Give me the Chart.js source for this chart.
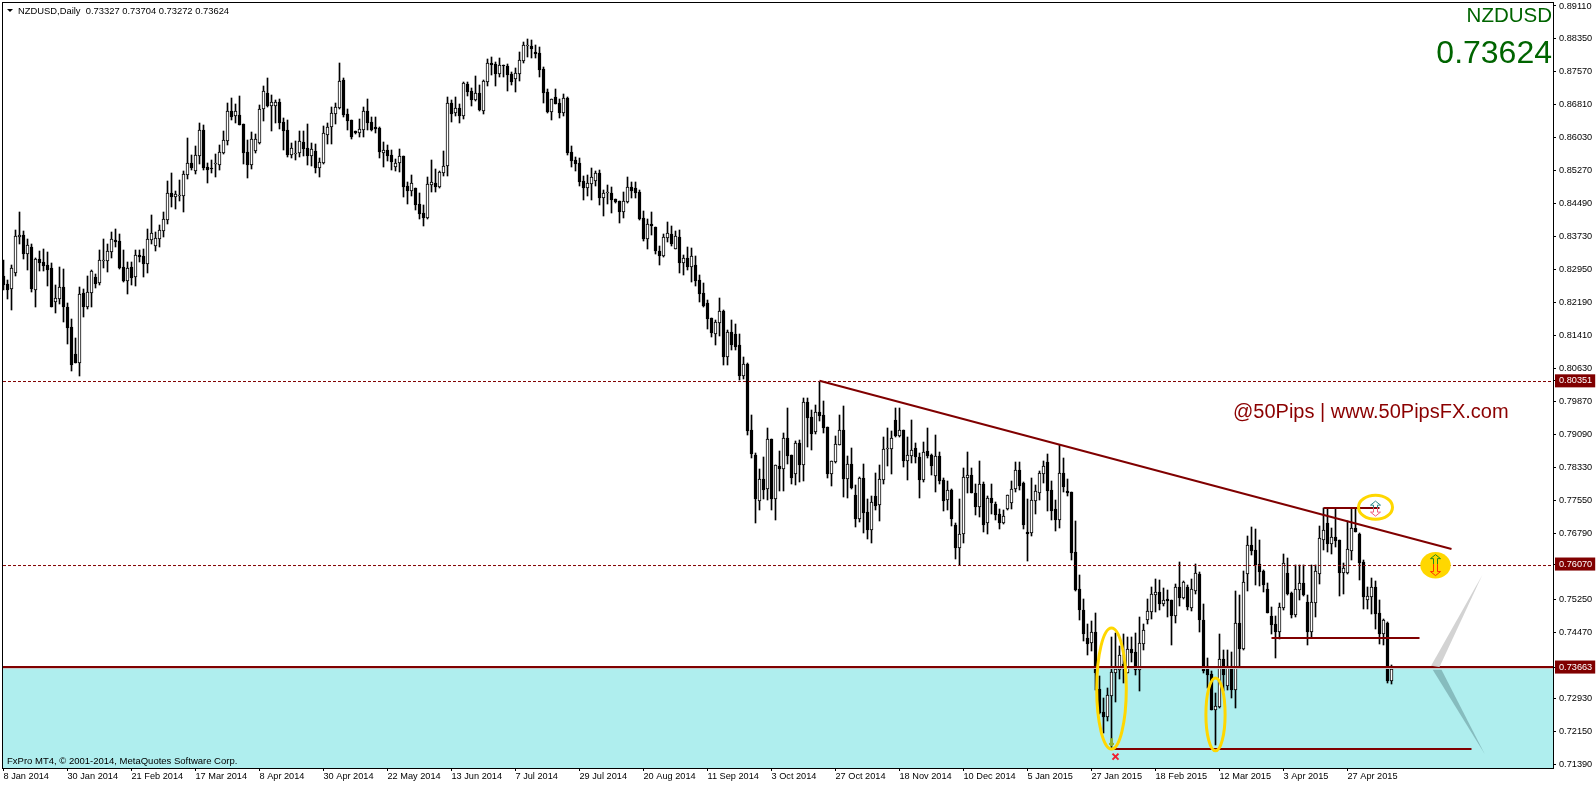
<!DOCTYPE html>
<html>
<head>
<meta charset="utf-8">
<title>NZDUSD Daily</title>
<script src="https://cdn.jsdelivr.net/npm/chart.js@4/dist/chart.umd.min.js"></script>
<style>
  html, body { margin: 0; padding: 0; background: #fff; overflow: hidden; }
  canvas { display: block; }
</style>
</head>
<body>
<canvas id="myChart" width="1596" height="786"></canvas>
<script>
const opens = [
  0.8280,0.8261,0.8249,0.8288,0.8372,0.8377,0.8331,0.8348,0.8248,0.8320,
  0.8313,0.8306,0.8299,0.8220,0.8226,0.8254,0.8208,0.8161,0.8098,0.8077,
  0.8240,0.8208,0.8241,0.8278,0.8264,0.8316,0.8315,0.8336,0.8364,0.8362,
  0.8301,0.8268,0.8301,0.8278,0.8329,0.8327,0.8308,0.8364,0.8350,0.8366,
  0.8385,0.8411,0.8474,0.8465,0.8467,0.8467,0.8516,0.8544,0.8525,0.8560,
  0.8621,0.8535,0.8531,0.8541,0.8539,0.8567,0.8596,0.8666,0.8654,0.8656,
  0.8635,0.8570,0.8539,0.8572,0.8591,0.8670,0.8708,0.8677,0.8677,0.8687,
  0.8640,0.8621,0.8563,0.8564,0.8567,0.8593,0.8579,0.8560,0.8572,0.8532,
  0.8544,0.8610,0.8628,0.8659,0.8673,0.8738,0.8659,0.8644,0.8619,0.8614,
  0.8621,0.8666,0.8640,0.8628,0.8626,0.8567,0.8574,0.8563,0.8535,0.8543,
  0.8560,0.8490,0.8479,0.8486,0.8448,0.8427,0.8416,0.8493,0.8497,0.8488,
  0.8521,0.8537,0.8684,0.8661,0.8673,0.8654,0.8729,0.8712,0.8691,0.8708,
  0.8666,0.8733,0.8778,0.8776,0.8752,0.8772,0.8771,0.8752,0.8740,0.8752,
  0.8783,0.8818,0.8818,0.8804,0.8801,0.8764,0.8710,0.8663,0.8698,0.8684,
  0.8661,0.8696,0.8570,0.8551,0.8544,0.8502,0.8486,0.8495,0.8502,0.8521,
  0.8463,0.8473,0.8474,0.8460,0.8456,0.8430,0.8453,0.8488,0.8486,0.8477,
  0.8416,0.8367,0.8402,0.8395,0.8339,0.8327,0.8369,0.8378,0.8343,0.8371,
  0.8311,0.8322,0.8301,0.8306,0.8271,0.8241,0.8217,0.8182,0.8145,0.8170,
  0.8198,0.8091,0.8149,0.8145,0.8119,0.8047,0.8075,0.7920,0.7862,0.7755,
  0.7806,0.7783,0.7899,0.7759,0.7836,0.7829,0.7902,0.7861,0.7818,0.7890,
  0.7839,0.7986,0.7951,0.7916,0.7962,0.7955,0.7927,0.7818,0.7846,0.7885,
  0.7920,0.7806,0.7841,0.7769,0.7712,0.7808,0.7729,0.7687,0.7766,0.7745,
  0.7804,0.7875,0.7875,0.7944,0.7906,0.7920,0.7848,0.7860,0.7878,0.7857,
  0.7804,0.7871,0.7862,0.7813,0.7860,0.7804,0.7757,0.7780,0.7698,0.7645,
  0.7677,0.7808,0.7815,0.7773,0.7741,0.7794,0.7703,0.7762,0.7748,0.7724,
  0.7703,0.7735,0.7750,0.7783,0.7827,0.7796,0.7682,0.7679,0.7754,0.7773,
  0.7817,0.7845,0.7780,0.7735,0.7710,0.7820,0.7777,0.7775,0.7635,0.7548,
  0.7499,0.7434,0.7423,0.7448,0.7315,0.7261,0.7250,0.7299,0.7353,0.7360,
  0.7374,0.7353,0.7409,0.7402,0.7360,0.7420,0.7476,0.7495,0.7535,0.7542,
  0.7514,0.7525,0.7523,0.7486,0.7554,0.7528,0.7554,0.7504,0.7544,0.7584,
  0.7476,0.7369,0.7350,0.7266,0.7273,0.7385,0.7322,0.7369,0.7313,0.7469,
  0.7409,0.7584,0.7652,0.7640,0.7607,0.7591,0.7549,0.7486,0.7467,0.7448,
  0.7505,0.7586,0.7540,0.7488,0.7547,0.7563,0.7519,0.7448,0.7516,0.7584,
  0.7663,0.7703,0.7654,0.7670,0.7663,0.7586,0.7586,0.7638,0.7691,0.7677,
  0.7612,0.7523,0.7530,0.7554,0.7493,0.7444,0.7469,0.73327
];
const highs = [
  0.8317,0.8270,0.8305,0.8387,0.8430,0.8385,0.8366,0.8355,0.8322,0.8338,
  0.8343,0.8336,0.8310,0.8259,0.8301,0.8296,0.8217,0.8180,0.8135,0.8254,
  0.8249,0.8280,0.8294,0.8285,0.8341,0.8366,0.8355,0.8383,0.8390,0.8378,
  0.8341,0.8313,0.8313,0.8341,0.8341,0.8343,0.8390,0.8423,0.8383,0.8399,
  0.8430,0.8502,0.8521,0.8479,0.8504,0.8525,0.8603,0.8563,0.8584,0.8638,
  0.8633,0.8544,0.8551,0.8565,0.8586,0.8619,0.8684,0.8696,0.8682,0.8701,
  0.8635,0.8598,0.8617,0.8612,0.8680,0.8724,0.8743,0.8703,0.8691,0.8694,
  0.8649,0.8645,0.8591,0.8596,0.8619,0.8619,0.8635,0.8591,0.8589,0.8556,
  0.8631,0.8638,0.8675,0.8684,0.8778,0.8743,0.8670,0.8645,0.8620,0.8647,
  0.8675,0.8694,0.8652,0.8652,0.8628,0.8593,0.8586,0.8574,0.8553,0.8577,
  0.8561,0.8500,0.8516,0.8486,0.8474,0.8446,0.8512,0.8551,0.8530,0.8526,
  0.8572,0.8698,0.8691,0.8698,0.8682,0.8733,0.8733,0.8719,0.8748,0.8726,
  0.8738,0.8787,0.8792,0.8780,0.8790,0.8773,0.8776,0.8757,0.8766,0.8804,
  0.8827,0.8834,0.8832,0.8820,0.8815,0.8769,0.8717,0.8694,0.8717,0.8694,
  0.8705,0.8698,0.8584,0.8558,0.8556,0.8514,0.8516,0.8533,0.8526,0.8528,
  0.8481,0.8493,0.8488,0.8460,0.8456,0.8477,0.8512,0.8500,0.8500,0.8481,
  0.8432,0.8413,0.8430,0.8395,0.8350,0.8378,0.8406,0.8397,0.8385,0.8388,
  0.8329,0.8348,0.8346,0.8327,0.8283,0.8264,0.8224,0.8182,0.8177,0.8229,
  0.8201,0.8154,0.8177,0.8168,0.8145,0.8091,0.8077,0.7955,0.7867,0.7829,
  0.7857,0.7925,0.7899,0.7839,0.7871,0.7913,0.7972,0.7862,0.7895,0.7897,
  0.7995,0.7995,0.7967,0.7979,0.8033,0.7988,0.7927,0.7848,0.7906,0.7955,
  0.7977,0.7860,0.7878,0.7792,0.7811,0.7841,0.7759,0.7766,0.7820,0.7839,
  0.7904,0.7925,0.7918,0.7972,0.7972,0.7920,0.7904,0.7944,0.7890,0.7867,
  0.7892,0.7925,0.7864,0.7909,0.7869,0.7808,0.7801,0.7783,0.7703,0.7759,
  0.7832,0.7869,0.7832,0.7794,0.7848,0.7799,0.7766,0.7794,0.7752,0.7736,
  0.7733,0.7769,0.7801,0.7846,0.7846,0.7799,0.7759,0.7808,0.7791,0.7824,
  0.7848,0.7864,0.7801,0.7756,0.7885,0.7855,0.7805,0.7775,0.7707,0.7581,
  0.7525,0.7467,0.7474,0.7493,0.7346,0.7294,0.7318,0.7437,0.7446,0.7416,
  0.7444,0.7437,0.7437,0.7446,0.7483,0.7467,0.7525,0.7554,0.7572,0.7570,
  0.7551,0.7547,0.7523,0.7561,0.7612,0.7568,0.7558,0.7572,0.7607,0.7589,
  0.7514,0.7388,0.7357,0.7306,0.7444,0.7406,0.7406,0.7402,0.7544,0.7535,
  0.7591,0.7673,0.7694,0.7689,0.7663,0.7593,0.7563,0.7507,0.7486,0.7516,
  0.7631,0.7621,0.7542,0.7605,0.7605,0.7605,0.7535,0.7605,0.7605,0.7696,
  0.7738,0.7738,0.7691,0.7738,0.7663,0.7610,0.7708,0.7738,0.7738,0.7680,
  0.7617,0.7554,0.7575,0.7568,0.7523,0.7479,0.7472,0.73704
];
const lows = [
  0.8247,0.8226,0.8200,0.8280,0.8355,0.8320,0.8293,0.8243,0.8208,0.8292,
  0.8292,0.8257,0.8207,0.8194,0.8215,0.8172,0.8121,0.8058,0.8076,0.8046,
  0.8184,0.8203,0.8208,0.8252,0.8259,0.8299,0.8289,0.8322,0.8348,0.8296,
  0.8266,0.8238,0.8259,0.8257,0.8313,0.8278,0.8287,0.8355,0.8338,0.8348,
  0.8371,0.8402,0.8441,0.8437,0.8455,0.8430,0.8507,0.8528,0.8518,0.8542,
  0.8528,0.8497,0.8521,0.8511,0.8528,0.8565,0.8586,0.8645,0.8638,0.8632,
  0.8542,0.8509,0.8530,0.8567,0.8589,0.8642,0.8676,0.8619,0.8638,0.8624,
  0.8574,0.8558,0.8556,0.8551,0.8558,0.8560,0.8539,0.8537,0.8521,0.8511,
  0.8542,0.8589,0.8589,0.8635,0.8670,0.8652,0.8621,0.8600,0.8612,0.8605,
  0.8605,0.8621,0.8619,0.8614,0.8556,0.8535,0.8549,0.8528,0.8525,0.8523,
  0.8465,0.8448,0.8467,0.8434,0.8413,0.8397,0.8413,0.8476,0.8476,0.8486,
  0.8514,0.8514,0.8640,0.8654,0.8638,0.8647,0.8701,0.8677,0.8690,0.8666,
  0.8659,0.8724,0.8750,0.8724,0.8745,0.8745,0.8712,0.8726,0.8710,0.8736,
  0.8778,0.8792,0.8790,0.8790,0.8745,0.8684,0.8662,0.8645,0.8681,0.8649,
  0.8654,0.8563,0.8535,0.8526,0.8490,0.8458,0.8467,0.8458,0.8491,0.8446,
  0.8420,0.8449,0.8427,0.8451,0.8404,0.8416,0.8451,0.8463,0.8463,0.8411,
  0.8362,0.8343,0.8376,0.8332,0.8306,0.8325,0.8360,0.8350,0.8342,0.8287,
  0.8283,0.8294,0.8266,0.8257,0.8220,0.8208,0.8156,0.8138,0.8119,0.8140,
  0.8072,0.8072,0.8107,0.8107,0.8037,0.8040,0.7909,0.7855,0.7703,0.7733,
  0.7759,0.7757,0.7733,0.7710,0.7778,0.7778,0.7841,0.7794,0.7792,0.7799,
  0.7801,0.7881,0.7874,0.7911,0.7941,0.7913,0.7808,0.7790,0.7843,0.7884,
  0.7764,0.7762,0.7783,0.7694,0.7705,0.7680,0.7666,0.7656,0.7733,0.7708,
  0.7794,0.7836,0.7818,0.7905,0.7904,0.7834,0.7804,0.7843,0.7843,0.7762,
  0.7799,0.7855,0.7815,0.7776,0.7794,0.7731,0.7733,0.7696,0.7619,0.7605,
  0.7656,0.7773,0.7772,0.7722,0.7717,0.7682,0.7677,0.7724,0.7710,0.7689,
  0.7701,0.7733,0.7736,0.7776,0.7780,0.7690,0.7614,0.7672,0.7724,0.7756,
  0.7796,0.7731,0.7710,0.7684,0.7691,0.7775,0.7766,0.7616,0.7545,0.7476,
  0.7427,0.7395,0.7404,0.7313,0.7257,0.7212,0.7240,0.7175,0.7285,0.7339,
  0.7329,0.7352,0.7378,0.7348,0.7311,0.7406,0.7467,0.7479,0.7495,0.7500,
  0.7509,0.7483,0.7418,0.7469,0.7509,0.7525,0.7500,0.7497,0.7537,0.7448,
  0.7353,0.7318,0.7265,0.7184,0.7271,0.7311,0.7313,0.7294,0.7271,0.7369,
  0.7406,0.7544,0.7628,0.7558,0.7556,0.7542,0.7492,0.7444,0.7388,0.7432,
  0.7500,0.7535,0.7481,0.7484,0.7523,0.7533,0.7418,0.7437,0.7484,0.7561,
  0.7640,0.7635,0.7631,0.7647,0.7533,0.7537,0.7584,0.7617,0.7681,0.7570,
  0.7502,0.7502,0.7491,0.7455,0.7420,0.7418,0.7328,0.73272
];
const closes = [
  0.8259,0.8247,0.8298,0.8373,0.8377,0.8331,0.8353,0.8250,0.8320,0.8310,
  0.8304,0.8294,0.8208,0.8228,0.8254,0.8208,0.8158,0.8072,0.8077,0.8238,
  0.8208,0.8243,0.8292,0.8261,0.8317,0.8317,0.8338,0.8366,0.8359,0.8298,
  0.8268,0.8299,0.8275,0.8329,0.8324,0.8308,0.8366,0.8380,0.8369,0.8387,
  0.8413,0.8474,0.8465,0.8472,0.8469,0.8518,0.8544,0.8532,0.8563,0.8621,
  0.8532,0.8528,0.8529,0.8543,0.8570,0.8598,0.8666,0.8652,0.8666,0.8633,
  0.8567,0.8539,0.8600,0.8600,0.8670,0.8712,0.8677,0.8687,0.8687,0.8638,
  0.8619,0.8563,0.8579,0.8566,0.8596,0.8577,0.8560,0.8577,0.8532,0.8546,
  0.8614,0.8628,0.8661,0.8675,0.8736,0.8656,0.8642,0.8605,0.8614,0.8624,
  0.8666,0.8638,0.8621,0.8624,0.8570,0.8574,0.8560,0.8546,0.8544,0.8560,
  0.8488,0.8479,0.8497,0.8446,0.8425,0.8416,0.8495,0.8500,0.8488,0.8523,
  0.8537,0.8684,0.8659,0.8673,0.8654,0.8731,0.8710,0.8691,0.8708,0.8668,
  0.8736,0.8778,0.8773,0.8752,0.8773,0.8770,0.8750,0.8733,0.8755,0.8785,
  0.8820,0.8820,0.8811,0.8799,0.8762,0.8708,0.8663,0.8693,0.8682,0.8661,
  0.8696,0.8568,0.8549,0.8542,0.8500,0.8486,0.8498,0.8512,0.8521,0.8463,
  0.8474,0.8474,0.8458,0.8453,0.8430,0.8456,0.8488,0.8479,0.8474,0.8413,
  0.8367,0.8402,0.8397,0.8339,0.8327,0.8371,0.8381,0.8355,0.8374,0.8311,
  0.8322,0.8301,0.8327,0.8269,0.8238,0.8210,0.8180,0.8147,0.8173,0.8198,
  0.8091,0.8149,0.8119,0.8114,0.8047,0.8075,0.7918,0.7864,0.7759,0.7806,
  0.7780,0.7899,0.7759,0.7838,0.7829,0.7902,0.7860,0.7808,0.7890,0.7839,
  0.7986,0.7948,0.7911,0.7962,0.7953,0.7925,0.7818,0.7847,0.7888,0.7920,
  0.7806,0.7841,0.7785,0.7712,0.7808,0.7726,0.7687,0.7752,0.7743,0.7806,
  0.7876,0.7877,0.7902,0.7906,0.7920,0.7848,0.7862,0.7874,0.7857,0.7804,
  0.7869,0.7860,0.7836,0.7860,0.7801,0.7755,0.7780,0.7712,0.7645,0.7677,
  0.7811,0.7815,0.7773,0.7741,0.7794,0.7698,0.7762,0.7750,0.7722,0.7703,
  0.7719,0.7768,0.7783,0.7827,0.7790,0.7698,0.7677,0.7756,0.7777,0.7820,
  0.7836,0.7777,0.7731,0.7710,0.7820,0.7787,0.7773,0.7633,0.7546,0.7499,
  0.7443,0.7420,0.7448,0.7353,0.7259,0.7250,0.7301,0.7355,0.7362,0.7395,
  0.7364,0.7409,0.7399,0.7360,0.7423,0.7453,0.7497,0.7537,0.7542,0.7514,
  0.7523,0.7521,0.7486,0.7554,0.7528,0.7565,0.7507,0.7549,0.7586,0.7476,
  0.7357,0.7348,0.7266,0.7275,0.7385,0.7348,0.7369,0.7313,0.7469,0.7409,
  0.7565,0.7652,0.7638,0.7605,0.7589,0.7558,0.7493,0.7465,0.7448,0.7507,
  0.7610,0.7537,0.7488,0.7549,0.7563,0.7535,0.7448,0.7519,0.7591,0.7668,
  0.7687,0.7654,0.7670,0.7661,0.7586,0.7598,0.7642,0.7691,0.7682,0.7610,
  0.7530,0.7533,0.7554,0.7491,0.7444,0.7476,0.7333,0.73624
];

// one label every 16 bars
const dateLabels = [
  "8 Jan 2014","30 Jan 2014","21 Feb 2014","17 Mar 2014","8 Apr 2014","30 Apr 2014",
  "22 May 2014","13 Jun 2014","7 Jul 2014","29 Jul 2014","20 Aug 2014","11 Sep 2014",
  "3 Oct 2014","27 Oct 2014","18 Nov 2014","10 Dec 2014","5 Jan 2015","27 Jan 2015",
  "18 Feb 2015","12 Mar 2015","3 Apr 2015","27 Apr 2015"
];
const priceTicks = [
  0.8911,0.8835,0.8757,0.8681,0.8603,0.8527,0.8449,0.8373,0.8295,0.8219,0.8141,0.8063,
  0.80351,0.7987,0.7909,0.7833,0.7755,0.7679,0.7607,0.7525,0.7447,0.73663,0.7293,0.7215,0.7139
];
const boxedPrices = [0.80351, 0.7607, 0.73663];

const darkRed = "#800000";
const gold = "#FFD700";

// drawn objects on the chart, in bar index and price
const trendLine = [{x: 204, y: 0.80351}, {x: 362, y: 0.76421}];
const supportLine = [{x: 277, y: 0.71747}, {x: 367, y: 0.71747}];
const midLine = [{x: 317, y: 0.74341}, {x: 354, y: 0.74341}];
const topLine = [{x: 330, y: 0.77379}, {x: 344, y: 0.77379}];
const ellipses = [
  {bar: 277, top: 0.74575, bottom: 0.71747, bars: 3.7, fill: false},
  {bar: 303, top: 0.73407, bottom: 0.71707, bars: 2.4, fill: false},
  {bar: 343, top: 0.77676, bottom: 0.77115, bars: 4.25, fill: false},
  {bar: 358, top: 0.76351, bottom: 0.75734, bars: 3.8, fill: true}
];
const wedges = [
  {color: "#D3D3D3", points: [[369.7, 0.75814], [356.9, 0.73694], [359, 0.73663]]},
  {color: "#86BCBE", points: [[357.3, 0.73601], [359.5, 0.73601], [370.3, 0.7163]]}
];

const xMin = -0.125, xMax = 387.375;
const flat = (y) => [{x: xMin, y: y}, {x: xMax, y: y}];

function lineSet(data, width, dash, color) {
  return {
    type: "line", data: data, order: 0,
    borderColor: color || darkRed, borderWidth: width, borderDash: dash || [],
    pointRadius: 0, tension: 0, fill: false
  };
}

function drawArrow(ctx, x, y1, y2, color) {
  // outlined block arrow from y1 (tail) to y2 (tip)
  const d = y2 > y1 ? 1 : -1, neck = y2 - d * 4;
  ctx.strokeStyle = color;
  ctx.lineWidth = 1;
  ctx.beginPath();
  ctx.moveTo(x - 2, y1);
  ctx.lineTo(x - 2, neck);
  ctx.lineTo(x - 5, neck);
  ctx.lineTo(x, y2);
  ctx.lineTo(x + 5, neck);
  ctx.lineTo(x + 2, neck);
  ctx.lineTo(x + 2, y1);
  ctx.stroke();
}

function drawText(ctx, str, x, y, font, color, align) {
  ctx.font = font;
  ctx.fillStyle = color;
  ctx.textAlign = align || "left";
  ctx.textBaseline = "middle";
  ctx.fillText(str, x, y);
}

// keep candle edges on whole pixels, MT4 draws them without smoothing
const snapBars = {
  id: "snapBars",
  afterDatasetsUpdate(chart) {
    chart.getSortedVisibleDatasetMetas().forEach((meta) => {
      if (meta.type !== "bar") return;
      meta.data.forEach((bar) => {
        const top = Math.round(Math.min(bar.y, bar.base));
        const bottom = Math.round(Math.max(bar.y, bar.base));
        bar.y = top;
        bar.base = bottom > top ? bottom : top + 1;
        bar.height = bar.base - bar.y;
      });
    });
  }
};

const overlay = {
  id: "overlay",
  afterDatasetsDraw(chart) {
    const ctx = chart.ctx, xs = chart.scales.x, ys = chart.scales.y;
    const px = (v) => xs.getPixelForValue(v), py = (v) => ys.getPixelForValue(v);
    ctx.save();

    wedges.forEach((w) => {
      ctx.fillStyle = w.color;
      ctx.beginPath();
      w.points.forEach((p, i) => i ? ctx.lineTo(px(p[0]), py(p[1])) : ctx.moveTo(px(p[0]), py(p[1])));
      ctx.closePath();
      ctx.fill();
    });

    ellipses.forEach((e) => {
      const top = py(e.top), bottom = py(e.bottom);
      ctx.beginPath();
      ctx.ellipse(px(e.bar), (top + bottom) / 2, px(e.bar + e.bars) - px(e.bar), (bottom - top) / 2, 0, 0, Math.PI * 2);
      if (e.fill) {
        ctx.fillStyle = gold;
        ctx.fill();
      } else {
        ctx.strokeStyle = gold;
        ctx.lineWidth = 3;
        ctx.stroke();
      }
    });

    // arrows for the signal objects
    drawArrow(ctx, px(343), py(0.77379), py(0.77540), "#2E8B8B");
    drawArrow(ctx, px(343), py(0.77379), py(0.77190), "#F06080");
    drawArrow(ctx, px(358), py(0.76070), py(0.76290), "#1E8B1E");
    drawArrow(ctx, px(358), py(0.76070), py(0.75800), "#FF3000");

    // low marker
    const mx = px(278), my = py(0.71570);
    ctx.strokeStyle = "#F02030";
    ctx.lineWidth = 2;
    ctx.beginPath();
    ctx.moveTo(mx - 3, my - 3); ctx.lineTo(mx + 3, my + 3);
    ctx.moveTo(mx + 3, my - 3); ctx.lineTo(mx - 3, my + 3);
    ctx.stroke();
    ctx.fillStyle = "#8FB030";
    ctx.fillRect(px(277) - 1.5, py(0.72000), 3, 8);
    ctx.fillRect(px(277) - 2.5, py(0.71890), 5, 2);

    // frame
    ctx.strokeStyle = "#000";
    ctx.lineWidth = 1;
    ctx.strokeRect(2.5, 2.5, 1551, 766);

    const sans = '"Liberation Sans"';
    ctx.fillStyle = "#000";
    ctx.beginPath();
    ctx.moveTo(7, 9); ctx.lineTo(13, 9); ctx.lineTo(10, 12);
    ctx.closePath();
    ctx.fill();
    drawText(ctx, "NZDUSD,Daily  0.73327 0.73704 0.73272 0.73624", 18, 11, "9.4px " + sans, "#000");
    drawText(ctx, "FxPro MT4, © 2001-2014, MetaQuotes Software Corp.", 7, 761, "9.5px " + sans, "#000");
    drawText(ctx, "NZDUSD", 1552, 16, "20.5px " + sans, "#006400", "right");
    drawText(ctx, "0.73624", 1552, 54.5, "32px " + sans, "#006400", "right");
    drawText(ctx, "@50Pips | www.50PipsFX.com", 1233, 412, "20px " + sans, "#8B0000");
    ctx.restore();
  }
};

new Chart(document.getElementById("myChart"), {
  type: "bar",
  plugins: [snapBars, overlay],
  data: {
    datasets: [
      // cyan zone under the support level
      {type: "line", data: flat(0.73663), order: 5, borderWidth: 0, pointRadius: 0,
        backgroundColor: "#AFEEEE", fill: "start"},
      {type: "bar", data: lows.map((l, i) => ({x: i, y: [l, highs[i]]})), order: 2,
        barThickness: 1, backgroundColor: "#000", borderWidth: 0, grouped: false},
      {type: "bar", data: opens.map((o, i) => ({x: i, y: [o, closes[i]]})), order: 1,
        barThickness: 3, minBarLength: 1, grouped: false, borderColor: "#000", borderWidth: 1,
        borderSkipped: false,
        backgroundColor: opens.map((o, i) => closes[i] >= o ? "#fff" : "#000")},
      lineSet(flat(0.80335), 1, [3, 2]),
      lineSet(flat(0.76035), 1, [3, 2]),
      lineSet(flat(0.73629), 1, [], "#C8C8C8"),
      lineSet(flat(0.73663), 2),
      lineSet(trendLine, 2),
      lineSet(supportLine, 2),
      lineSet(midLine, 2),
      lineSet(topLine, 2)
    ]
  },
  options: {
    responsive: false,
    animation: false,
    devicePixelRatio: 1,
    layout: {padding: {left: 3, top: 3, right: 0, bottom: 0}},
    plugins: {legend: {display: false}, tooltip: {enabled: false}, title: {display: false}},
    scales: {
      x: {
        type: "linear", min: xMin, max: xMax, offset: false, bounds: "data",
        afterFit(s) { s.height = 18; s.paddingLeft = 0; s.paddingRight = 0; },
        afterBuildTicks(s) { s.ticks = dateLabels.map((d, k) => ({value: k * 16})); },
        border: {display: false},
        grid: {offset: false, drawOnChartArea: false, tickLength: 3, color: "#000"},
        ticks: {
          align: "start", autoSkip: false, maxRotation: 0, padding: 0,
          color: "#000", font: {family: "Liberation Sans", size: 9.2},
          callback: (v, i) => dateLabels[i]
        }
      },
      y: {
        position: "right", min: 0.71304, max: 0.8918, bounds: "data",
        afterFit(s) { s.width = 43; s.paddingTop = 0; s.paddingBottom = 0; },
        afterBuildTicks(s) { s.ticks = priceTicks.map((p) => ({value: p})); },
        border: {display: false},
        grid: {drawOnChartArea: false, tickLength: 3, color: "#000"},
        ticks: {
          autoSkip: false, padding: 3,
          font: {family: "Liberation Sans", size: 9.2},
          color: (c) => boxedPrices.includes(c.tick.value) ? "#fff" : "#000",
          showLabelBackdrop: (c) => boxedPrices.includes(c.tick.value),
          backdropColor: darkRed,
          backdropPadding: {top: 1, bottom: 1, left: 4, right: 3},
          callback: (v) => v.toFixed(5)
        }
      }
    }
  }
});
</script>
</body>
</html>
